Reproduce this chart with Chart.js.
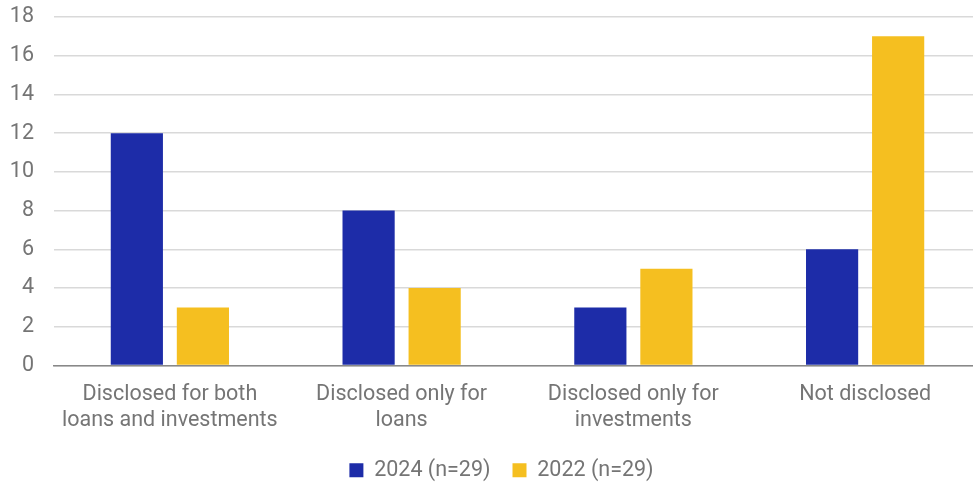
<!DOCTYPE html>
<html lang="en">
<head>
  <meta charset="UTF-8" />
  <title>Disclosure comparison</title>
  <script src="https://cdn.jsdelivr.net/npm/chart.js"></script>
  <style>
    html, body { margin: 0; padding: 0; background: #fff; }
    #wrap { width: 973px; height: 482px; }
  </style>
</head>
<body>
  <div id="wrap"><canvas id="chart" width="973" height="482"></canvas></div>
  <script>
    const categories = [
      ["Disclosed for both", "loans and investments"],
      ["Disclosed only for", "loans"],
      ["Disclosed only for", "investments"],
      "Not disclosed"
    ];
    const seriesNames = ["2024 (n=29)", "2022 (n=29)"];
    const values2024 = [12, 8, 3, 6];
    const values2022 = [3, 4, 5, 17];

    const TEXT = "#757575";
    const FONT = { family: "Roboto", size: 21.5, lineHeight: 1.2 };

    // original plot runs a little past the right edge, and legend sits right of centre
    const layoutTweaks = {
      id: "layoutTweaks",
      afterLayout(chart) {
        const x = chart.scales.x;
        x.right += 8;
        x.width += 8;
        x.configure();
        chart.legend.left += 15;
        chart.legend.right += 15;
      }
    };

    new Chart(document.getElementById("chart"), {
      type: "bar",
      data: {
        labels: categories,
        datasets: [
          { label: seriesNames[0], data: values2024, backgroundColor: "#1d2ca8" },
          { label: seriesNames[1], data: values2022, backgroundColor: "#f5bf20" }
        ]
      },
      plugins: [layoutTweaks],
      options: {
        responsive: false,
        animation: false,
        devicePixelRatio: 1,
        categoryPercentage: 0.57,
        barPercentage: 0.79,
        layout: { padding: { top: 17, right: 0, bottom: -9, left: 0 } },
        plugins: {
          legend: {
            position: "bottom",
            labels: {
              boxWidth: 14,
              boxHeight: 14,
              padding: 22,
              color: TEXT,
              font: FONT
            }
          },
          tooltip: { enabled: false }
        },
        scales: {
          x: {
            afterFit: (s) => { s.height = 72; s.paddingLeft = 0; s.paddingRight = 0; },
            grid: { display: false, drawTicks: false },
            border: { display: true, color: "#888", width: 1.5 },
            ticks: {
              color: TEXT,
              font: FONT,
              padding: 16,
              maxRotation: 0
            }
          },
          y: {
            min: 0,
            max: 18,
            afterFit: (s) => { s.width = 54; s.paddingTop = 0; s.paddingBottom = 0; },
            grid: { color: "#d9d9d9", lineWidth: 1.5, drawTicks: false },
            border: { display: false },
            ticks: {
              stepSize: 2,
              color: TEXT,
              font: FONT,
              padding: 20
            }
          }
        }
      }
    });
  </script>
</body>
</html>
